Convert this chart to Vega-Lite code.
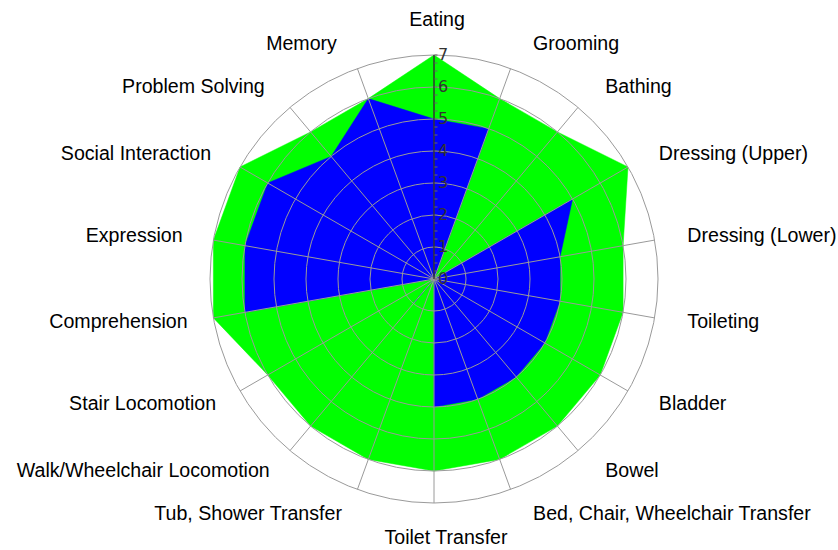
{
  "$schema": "https://vega.github.io/schema/vega-lite/v6.json",
  "width": 448,
  "height": 448,
  "autosize": {"type": "none"},
  "padding": {"left": 210, "top": 55, "right": 180, "bottom": 47},
  "background": "white",
  "config": {"view": {"stroke": null}},
  "datasets": {
    "fim": [
      {"item": "Eating", "goal": 7, "current": 5},
      {"item": "Grooming", "goal": 6, "current": 5},
      {"item": "Bathing", "goal": 6, "current": 0},
      {"item": "Dressing (Upper)", "goal": 7, "current": 5},
      {"item": "Dressing (Lower)", "goal": 6, "current": 4},
      {"item": "Toileting", "goal": 6, "current": 4},
      {"item": "Bladder", "goal": 6, "current": 4},
      {"item": "Bowel", "goal": 6, "current": 4},
      {"item": "Bed, Chair, Wheelchair Transfer", "goal": 6, "current": 4},
      {"item": "Toilet Transfer", "goal": 6, "current": 4},
      {"item": "Tub, Shower Transfer", "goal": 6, "current": 0},
      {"item": "Walk/Wheelchair Locomotion", "goal": 6, "current": 1},
      {"item": "Stair Locomotion", "goal": 6, "current": 0},
      {"item": "Comprehension", "goal": 7, "current": 6},
      {"item": "Expression", "goal": 7, "current": 6},
      {"item": "Social Interaction", "goal": 7, "current": 6},
      {"item": "Problem Solving", "goal": 6, "current": 5},
      {"item": "Memory", "goal": 6, "current": 6}
    ],
    "rings": [{"r": 1}, {"r": 2}, {"r": 3}, {"r": 4}, {"r": 5}, {"r": 6}, {"r": 7}],
    "majorTicks": [{"v": 0}, {"v": 1}, {"v": 2}, {"v": 3}, {"v": 4}, {"v": 5}, {"v": 6}, {"v": 7}],
    "minorTicks": [
      {"v": 0}, {"v": 0.25}, {"v": 0.5}, {"v": 0.75}, {"v": 1}, {"v": 1.25}, {"v": 1.5}, {"v": 1.75},
      {"v": 2}, {"v": 2.25}, {"v": 2.5}, {"v": 2.75}, {"v": 3}, {"v": 3.25}, {"v": 3.5}, {"v": 3.75},
      {"v": 4}, {"v": 4.25}, {"v": 4.5}, {"v": 4.75}, {"v": 5}, {"v": 5.25}, {"v": 5.5}, {"v": 5.75},
      {"v": 6}, {"v": 6.25}, {"v": 6.5}, {"v": 6.75}, {"v": 7}
    ]
  },
  "layer": [
    {
      "data": {"name": "fim"},
      "transform": [
        {"window": [{"op": "row_number", "as": "rn"}]},
        {"calculate": "(datum.rn - 1) * PI / 9", "as": "theta"},
        {"calculate": "datum.goal * sin(datum.theta)", "as": "gx"},
        {"calculate": "datum.goal * cos(datum.theta)", "as": "gy"},
        {"calculate": "datum.current * sin(datum.theta)", "as": "cx"},
        {"calculate": "datum.current * cos(datum.theta)", "as": "cy"}
      ],
      "layer": [
        {
          "mark": {"type": "line", "interpolate": "linear-closed", "fill": "#00ff00", "stroke": "#00ff00", "strokeWidth": 0.5},
          "encoding": {
            "x": {"field": "gx", "type": "quantitative", "scale": {"domain": [-7, 7], "nice": false, "zero": false}, "axis": null},
            "y": {"field": "gy", "type": "quantitative", "scale": {"domain": [-7, 7], "nice": false, "zero": false}, "axis": null},
            "order": {"field": "rn", "type": "quantitative"}
          }
        },
        {
          "mark": {"type": "line", "interpolate": "linear-closed", "fill": "#0000ff", "stroke": "#0000ff", "strokeWidth": 0.5},
          "encoding": {
            "x": {"field": "cx", "type": "quantitative", "scale": {"domain": [-7, 7], "nice": false, "zero": false}, "axis": null},
            "y": {"field": "cy", "type": "quantitative", "scale": {"domain": [-7, 7], "nice": false, "zero": false}, "axis": null},
            "order": {"field": "rn", "type": "quantitative"}
          }
        }
      ]
    },
    {
      "data": {"name": "rings"},
      "transform": [{"calculate": "0", "as": "c"}],
      "mark": {"type": "point", "shape": "circle", "filled": false, "stroke": "#9a9a9a", "strokeWidth": 1, "opacity": 1},
      "encoding": {
        "x": {"field": "c", "type": "quantitative", "scale": {"domain": [-7, 7], "nice": false, "zero": false}, "axis": null},
        "y": {"field": "c", "type": "quantitative", "scale": {"domain": [-7, 7], "nice": false, "zero": false}, "axis": null},
        "size": {"field": "r", "type": "quantitative", "scale": {"type": "pow", "exponent": 2, "domain": [0, 7], "range": [0, 200704], "zero": true, "nice": false}, "legend": null}
      }
    },
    {
      "data": {"name": "fim"},
      "transform": [
        {"window": [{"op": "row_number", "as": "rn"}]},
        {"calculate": "(datum.rn - 1) * PI / 9", "as": "theta"},
        {"calculate": "0", "as": "ox"},
        {"calculate": "7 * sin(datum.theta)", "as": "sx"},
        {"calculate": "7 * cos(datum.theta)", "as": "sy"}
      ],
      "mark": {"type": "rule", "stroke": "#9a9a9a", "strokeWidth": 1},
      "encoding": {
        "x": {"field": "ox", "type": "quantitative", "scale": {"domain": [-7, 7], "nice": false, "zero": false}, "axis": null},
        "y": {"field": "ox", "type": "quantitative", "scale": {"domain": [-7, 7], "nice": false, "zero": false}, "axis": null},
        "x2": {"field": "sx"},
        "y2": {"field": "sy"}
      }
    },
    {
      "data": {"values": [{"a": 0, "b": 7}]},
      "mark": {"type": "rule", "stroke": "#000000", "strokeWidth": 1},
      "encoding": {
        "x": {"field": "a", "type": "quantitative", "scale": {"domain": [-7, 7], "nice": false, "zero": false}, "axis": null},
        "y": {"field": "a", "type": "quantitative", "scale": {"domain": [-7, 7], "nice": false, "zero": false}, "axis": null},
        "y2": {"field": "b"}
      }
    },
    {
      "data": {"name": "minorTicks"},
      "transform": [{"calculate": "0", "as": "c"}],
      "mark": {"type": "tick", "orient": "horizontal", "size": 3, "thickness": 1, "color": "#666666", "opacity": 1, "xOffset": 2},
      "encoding": {
        "x": {"field": "c", "type": "quantitative", "scale": {"domain": [-7, 7], "nice": false, "zero": false}, "axis": null},
        "y": {"field": "v", "type": "quantitative", "scale": {"domain": [-7, 7], "nice": false, "zero": false}, "axis": null}
      }
    },
    {
      "data": {"name": "majorTicks"},
      "transform": [{"calculate": "0", "as": "c"}],
      "mark": {"type": "text", "align": "left", "baseline": "middle", "dx": 4, "font": "DejaVu Sans", "fontSize": 16, "color": "#333333"},
      "encoding": {
        "x": {"field": "c", "type": "quantitative", "scale": {"domain": [-7, 7], "nice": false, "zero": false}, "axis": null},
        "y": {"field": "v", "type": "quantitative", "scale": {"domain": [-7, 7], "nice": false, "zero": false}, "axis": null},
        "text": {"field": "v", "type": "quantitative", "format": "d"}
      }
    },
    {
      "data": {"name": "fim"},
      "transform": [
        {"window": [{"op": "row_number", "as": "rn"}]},
        {"calculate": "(datum.rn - 1) * PI / 9", "as": "theta"},
        {"calculate": "7.5 * sin(datum.theta)", "as": "lx"},
        {"calculate": "((datum.rn == 1 || datum.rn == 10) ? 8.09 : 7.8125) * cos(datum.theta)", "as": "ly"}
      ],
      "encoding": {
        "x": {"field": "lx", "type": "quantitative", "scale": {"domain": [-7, 7], "nice": false, "zero": false}, "axis": null},
        "y": {"field": "ly", "type": "quantitative", "scale": {"domain": [-7, 7], "nice": false, "zero": false}, "axis": null},
        "text": {"field": "item", "type": "nominal"}
      },
      "layer": [
        {
          "transform": [{"filter": "datum.rn >= 2 && datum.rn <= 9"}],
          "mark": {"type": "text", "align": "left", "baseline": "middle", "dx": 17, "font": "Liberation Sans", "fontSize": 19.6, "color": "#000000"}
        },
        {
          "transform": [{"filter": "datum.rn >= 11 && datum.rn <= 14"}],
          "mark": {"type": "text", "align": "right", "baseline": "middle", "dx": -10, "font": "Liberation Sans", "fontSize": 19.6, "color": "#000000"}
        },
        {
          "transform": [{"filter": "datum.rn >= 15"}],
          "mark": {"type": "text", "align": "right", "baseline": "middle", "dx": -15, "font": "Liberation Sans", "fontSize": 19.6, "color": "#000000"}
        },
        {
          "transform": [{"filter": "datum.rn == 1"}],
          "mark": {"type": "text", "align": "center", "baseline": "middle", "dx": 3, "font": "Liberation Sans", "fontSize": 19.6, "color": "#000000"}
        },
        {
          "transform": [{"filter": "datum.rn == 10"}],
          "mark": {"type": "text", "align": "center", "baseline": "middle", "dx": 12, "font": "Liberation Sans", "fontSize": 19.6, "color": "#000000"}
        }
      ]
    }
  ]
}
